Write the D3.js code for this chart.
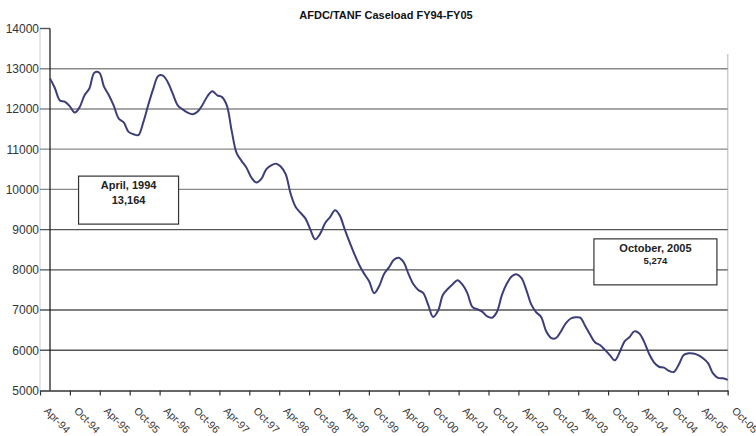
<!DOCTYPE html>
<html>
<head>
<meta charset="utf-8">
<script src="https://cdn.jsdelivr.net/npm/d3@7"></script>
<style>
  body { margin: 0; background: #fff; }
  svg { font-family: "Liberation Sans", Arial, sans-serif; }
  .ylab text, .xlab text { fill: #333; }
</style>
</head>
<body>
<div id="chart"></div>
<script>
const TITLE = "AFDC/TANF Caseload FY94-FY05";
const X_LABELS = ["Apr-94","Oct-94","Apr-95","Oct-95","Apr-96","Oct-96","Apr-97","Oct-97","Apr-98","Oct-98","Apr-99","Oct-99",
  "Apr-00","Oct-00","Apr-01","Oct-01","Apr-02","Oct-02","Apr-03","Oct-03","Apr-04","Oct-04","Apr-05","Oct-05"];
const Y_TICKS = [5000, 6000, 7000, 8000, 9000, 10000, 11000, 12000, 13000, 14000];
// monthly caseload, Apr 1994 .. Oct 2005
const CASELOAD = [
  12760, 12520, 12210, 12180, 12070, 11910, 12040, 12340, 12510, 12900, 12900, 12560,
  12340, 12080, 11760, 11670, 11430, 11370, 11350, 11680, 12100, 12500, 12820, 12830,
  12660, 12380, 12090, 11990, 11910, 11870, 11930, 12100, 12310, 12440, 12340, 12300,
  12090, 11460, 10900, 10710, 10540, 10290, 10170, 10260, 10500, 10600, 10640, 10570,
  10380, 9900, 9570, 9420, 9280, 9000, 8760, 8900, 9160, 9310, 9480, 9360,
  9020, 8700, 8390, 8120, 7900, 7710, 7420, 7590, 7890, 8060, 8250, 8300,
  8190, 7900, 7640, 7500, 7420, 7120, 6830, 6990, 7380, 7530, 7650, 7740,
  7630, 7420, 7080, 7020, 6960, 6840, 6810, 6960, 7370, 7660, 7840, 7890,
  7800, 7510, 7140, 6950, 6830, 6480, 6310, 6300, 6460, 6670, 6790, 6820,
  6810, 6610, 6390, 6200, 6130, 6010, 5880, 5750, 5950, 6220, 6330, 6470,
  6420, 6210, 5910, 5700, 5590, 5570, 5490, 5460, 5640, 5880, 5925, 5920,
  5880, 5800, 5680, 5430, 5315, 5305, 5265
];
// callout boxes: anchored at (month, value) of their top-centre
const NOTE_TITLES = ["April, 1994", "October, 2005"];
const NOTE_VALUES = ["13,164", "5,274"];
const NOTE_AT = [[new Date(1995, 7, 1), 10330], [new Date(2004, 6, 10), 8770]];

const W = 756, H = 436;
const START = new Date(1994, 3, 1);
const months = CASELOAD.map((v, i) => ({ date: d3.timeMonth.offset(START, i), v }));

const svg = d3.select("#chart").append("svg").attr("width", W).attr("height", H);

const x = d3.scaleTime().domain([START, months[months.length - 1].date]).range([50, 727.7]);
const xl = d3.scalePoint().domain(X_LABELS).range([40, 727.7]);
const y = d3.scaleLinear().domain([5000, 14000]).range([390.5, 28.5]);

// frame edges
svg.append("line").attr("x1", 40).attr("x2", 40).attr("y1", 28).attr("y2", 391).attr("stroke", "#ccc");
svg.append("line").attr("x1", 727.7).attr("x2", 727.7).attr("y1", 54).attr("y2", 395).attr("stroke", "#ccc").attr("stroke-width", 1.5);

// gridlines
svg.append("g").selectAll("line").data(Y_TICKS.filter(d => d > 5000 && d < 14000)).join("line")
  .attr("x1", 40).attr("x2", 727.7).attr("y1", d => y(d)).attr("y2", d => y(d))
  .attr("stroke", d => d >= 10000 ? "#888" : "#555").attr("stroke-width", 1.4);
svg.append("line").attr("x1", 40).attr("x2", 50).attr("y1", y(14000)).attr("y2", y(14000)).attr("stroke", "#555").attr("stroke-width", 1.4);

// y labels
const ya = svg.append("g").attr("class", "ylab").attr("transform", "translate(40,0)")
  .call(d3.axisLeft(y).tickValues(Y_TICKS).tickSize(0).tickPadding(1).tickFormat(d3.format("d")));
ya.select(".domain").remove();
ya.selectAll("text").attr("font-size", 12).attr("font-family", "Liberation Sans, Arial, sans-serif");

// x axis
const xa = svg.append("g").attr("class", "xlab").attr("transform", `translate(0,${y(5000)})`)
  .call(d3.axisBottom(xl).tickSize(5).tickSizeOuter(0));
xa.select(".domain").attr("stroke", "#333").attr("stroke-width", 1.4);
xa.selectAll(".tick line").attr("stroke", "#333").attr("stroke-width", 1.2);
xa.selectAll("text").attr("font-size", 10.5).attr("font-family", "Liberation Sans, Arial, sans-serif")
  .attr("text-anchor", "start").attr("dy", null).attr("y", 0)
  .attr("transform", "translate(3,21) rotate(45)");

// vertical value axis line
svg.append("line").attr("x1", 50).attr("x2", 50).attr("y1", y(14000)).attr("y2", y(5000)).attr("stroke", "#111").attr("stroke-width", 1.2);

// series
svg.append("path").datum(months)
  .attr("fill", "none").attr("stroke", "#3d3d7a").attr("stroke-width", 2)
  .attr("d", d3.line().x(d => x(d.date)).y(d => y(d.v)).curve(d3.curveCatmullRom.alpha(0.5)));

// annotations
const bw = [100, 123], bh = [48, 46];
NOTE_TITLES.forEach((t, i) => {
  const g = svg.append("g").attr("transform", `translate(${x(NOTE_AT[i][0])},${y(NOTE_AT[i][1])})`);
  g.append("rect").attr("x", -bw[i] / 2).attr("y", 0).attr("width", bw[i]).attr("height", bh[i])
    .attr("fill", "#fff").attr("stroke", "#333").attr("stroke-width", 1.2);
  g.append("text").attr("text-anchor", "middle").attr("y", 13).attr("font-size", 11).attr("font-weight", "bold").attr("fill", "#222").text(t);
  g.append("text").attr("text-anchor", "middle").attr("y", i === 0 ? 28 : 25).attr("font-size", i === 0 ? 11 : 9.5).attr("font-weight", "bold").attr("fill", "#222").text(NOTE_VALUES[i]);
});

// title
svg.append("text").attr("x", 386).attr("y", 19).attr("text-anchor", "middle")
  .attr("font-size", 11).attr("font-weight", "bold").attr("fill", "#111").text(TITLE);
</script>
</body>
</html>
